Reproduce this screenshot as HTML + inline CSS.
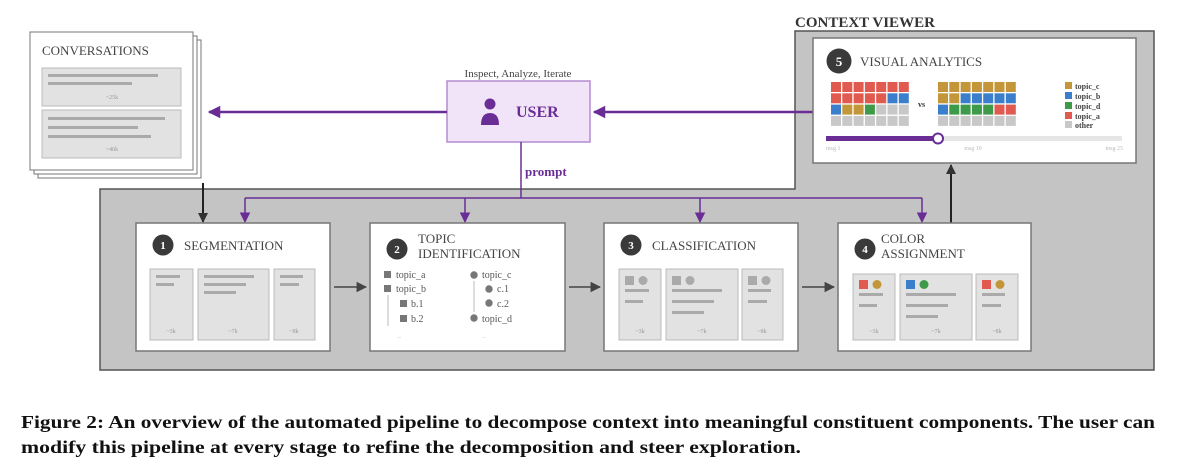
<!DOCTYPE html>
<html><head><style>
html,body{margin:0;padding:0;background:#fff;}
svg{display:block;font-family:"Liberation Serif",serif;}
</style></head><body>
<svg width="1199" height="472" viewBox="0 0 1199 472" xmlns="http://www.w3.org/2000/svg">
<defs>
<marker id="ap" viewBox="0 0 10 10" refX="9" refY="5" markerWidth="5" markerHeight="5" orient="auto"><path d="M0,0L10,5L0,10z" fill="#6a2d96"/></marker>
<marker id="ap2" viewBox="0 0 10 10" refX="9" refY="5" markerWidth="7" markerHeight="7" orient="auto"><path d="M0,0L10,5L0,10z" fill="#6a2d96"/></marker>
<marker id="ak" viewBox="0 0 10 10" refX="9" refY="5" markerWidth="5" markerHeight="5" orient="auto"><path d="M0,0L10,5L0,10z" fill="#333"/></marker>
<marker id="ak2" viewBox="0 0 10 10" refX="9" refY="5" markerWidth="7" markerHeight="7" orient="auto"><path d="M0,0L10,5L0,10z" fill="#444"/></marker>
</defs>

<!-- gray region -->
<path d="M100,189 L795,189 L795,31 L1154,31 L1154,370 L100,370 Z" fill="#c4c4c4" stroke="#555" stroke-width="1.5"/>
<text x="795" y="27" font-size="15" font-weight="bold" fill="#333">CONTEXT VIEWER</text>

<!-- conversations -->
<rect x="38" y="40" width="163" height="138" fill="#fff" stroke="#777" stroke-width="1"/>
<rect x="34" y="36" width="163" height="138" fill="#fff" stroke="#777" stroke-width="1"/>
<rect x="30" y="32" width="163" height="138" fill="#fff" stroke="#777" stroke-width="1"/>
<text x="42" y="55" font-size="13" fill="#444">CONVERSATIONS</text>
<rect x="42" y="68" width="139" height="38" fill="#e2e2e2" stroke="#bbb"/>
<rect x="48" y="74" width="110" height="3" fill="#aaa"/><rect x="48" y="82" width="84" height="3" fill="#aaa"/>
<text x="112" y="99" font-size="6" fill="#999" text-anchor="middle">~25k</text>
<rect x="42" y="110" width="139" height="48" fill="#e2e2e2" stroke="#bbb"/>
<rect x="48" y="117" width="117" height="3" fill="#aaa"/><rect x="48" y="126" width="90" height="3" fill="#aaa"/><rect x="48" y="135" width="103" height="3" fill="#aaa"/>
<text x="112" y="151" font-size="6" fill="#999" text-anchor="middle">~40k</text>

<!-- user -->
<text x="518" y="77" font-size="11" fill="#444" text-anchor="middle">Inspect, Analyze, Iterate</text>
<rect x="447" y="81" width="143" height="61" fill="#f1e4f8" stroke="#b48cd0" stroke-width="1.5"/>
<circle cx="490" cy="104" r="5.5" fill="#6a2d96"/>
<path d="M481,125 Q481,113 490,113 Q499,113 499,125 Z" fill="#6a2d96"/>
<text x="516" y="117" font-size="16" font-weight="bold" fill="#6a2d96">USER</text>
<line x1="447" y1="112" x2="209" y2="112" stroke="#6a2d96" stroke-width="2.5" marker-end="url(#ap)"/>
<line x1="813" y1="112" x2="594" y2="112" stroke="#6a2d96" stroke-width="2.5" marker-end="url(#ap)"/>

<!-- prompt -->
<line x1="521" y1="142" x2="521" y2="198" stroke="#6a2d96" stroke-width="1.5"/>
<text x="525" y="176" font-size="13" font-weight="bold" fill="#6a2d96">prompt</text>
<line x1="245" y1="198" x2="922" y2="198" stroke="#6a2d96" stroke-width="1.5"/>
<line x1="245" y1="198" x2="245" y2="222" stroke="#6a2d96" stroke-width="1.5" marker-end="url(#ap2)"/>
<line x1="465" y1="198" x2="465" y2="222" stroke="#6a2d96" stroke-width="1.5" marker-end="url(#ap2)"/>
<line x1="700" y1="198" x2="700" y2="222" stroke="#6a2d96" stroke-width="1.5" marker-end="url(#ap2)"/>
<line x1="922" y1="198" x2="922" y2="222" stroke="#6a2d96" stroke-width="1.5" marker-end="url(#ap2)"/>
<line x1="203" y1="183" x2="203" y2="222" stroke="#222" stroke-width="2" marker-end="url(#ak)"/>
<line x1="951" y1="223" x2="951" y2="165" stroke="#222" stroke-width="2" marker-end="url(#ak)"/>

<!-- visual analytics -->
<rect x="813" y="38" width="323" height="125" fill="#fff" stroke="#777" stroke-width="1.5"/>
<circle cx="839" cy="61" r="12.5" fill="#3a3a3a"/>
<text x="839" y="66" font-size="13" font-weight="bold" fill="#fff" text-anchor="middle">5</text>
<text x="860" y="66" font-size="13" fill="#444">VISUAL ANALYTICS</text>
<text x="918" y="107" font-size="8" font-weight="bold" fill="#333">vs</text>
<g font-size="8" font-weight="bold" fill="#444">
<rect x="1065" y="82" width="7" height="7" fill="#c4963a"/><text x="1075" y="89">topic_c</text>
<rect x="1065" y="92" width="7" height="7" fill="#3b7fcc"/><text x="1075" y="99">topic_b</text>
<rect x="1065" y="102" width="7" height="7" fill="#3d9a48"/><text x="1075" y="109">topic_d</text>
<rect x="1065" y="112" width="7" height="7" fill="#e05a50"/><text x="1075" y="119">topic_a</text>
<rect x="1065" y="121" width="7" height="7" fill="#c8c8c8"/><text x="1075" y="128">other</text>
</g>
<rect x="826" y="136" width="296" height="5" fill="#e6e6e6"/>
<rect x="826" y="136" width="112" height="5" fill="#6a2d96"/>
<circle cx="938" cy="138.5" r="5" fill="#fff" stroke="#6a2d96" stroke-width="2"/>
<text x="826" y="150" font-size="6" fill="#bbb">msg 1</text>
<text x="973" y="150" font-size="6" fill="#bbb" text-anchor="middle">msg 10</text>
<text x="1123" y="150" font-size="6" fill="#bbb" text-anchor="end">msg 25</text>

<!-- stage boxes -->
<g stroke="#777" stroke-width="1.5" fill="#fff">
<rect x="136" y="223" width="194" height="128"/>
<rect x="370" y="223" width="195" height="128"/>
<rect x="604" y="223" width="194" height="128"/>
<rect x="838" y="223" width="193" height="128"/>
</g>
<g fill="#3a3a3a"><circle cx="163" cy="245" r="10.5"/><circle cx="397" cy="249" r="10.5"/><circle cx="631" cy="245" r="10.5"/><circle cx="865" cy="249" r="10.5"/></g>
<g font-size="11" font-weight="bold" fill="#fff" text-anchor="middle"><text x="163" y="249">1</text><text x="397" y="253">2</text><text x="631" y="249">3</text><text x="865" y="253">4</text></g>
<g font-size="13" fill="#444">
<text x="184" y="250">SEGMENTATION</text>
<text x="418" y="243">TOPIC</text><text x="418" y="258">IDENTIFICATION</text>
<text x="652" y="250">CLASSIFICATION</text>
<text x="881" y="243">COLOR</text><text x="881" y="258">ASSIGNMENT</text>
</g>

<!-- stage arrows -->
<g stroke="#444" stroke-width="1.5">
<line x1="334" y1="287" x2="366" y2="287" marker-end="url(#ak2)"/>
<line x1="569" y1="287" x2="600" y2="287" marker-end="url(#ak2)"/>
<line x1="802" y1="287" x2="834" y2="287" marker-end="url(#ak2)"/>
</g>

<g fill="#e2e2e2" stroke="#bbb">
<rect x="150" y="269" width="43" height="71"/><rect x="198" y="269" width="71" height="71"/><rect x="274" y="269" width="41" height="71"/>
<rect x="619" y="269" width="42" height="71"/><rect x="666" y="269" width="72" height="71"/><rect x="742" y="269" width="41" height="71"/>
<rect x="853" y="274" width="42" height="66"/><rect x="900" y="274" width="72" height="66"/><rect x="976" y="274" width="42" height="66"/>
</g>
<g fill="#aaa">
<rect x="156" y="275" width="24" height="3"/><rect x="156" y="283" width="18" height="3"/>
<rect x="204" y="275" width="50" height="3"/><rect x="204" y="283" width="42" height="3"/><rect x="204" y="291" width="32" height="3"/>
<rect x="280" y="275" width="23" height="3"/><rect x="280" y="283" width="19" height="3"/>
</g>
<g font-size="6" fill="#999" text-anchor="middle">
<text x="171" y="333">~3k</text><text x="233" y="333">~7k</text><text x="294" y="333">~8k</text>
<text x="640" y="333">~3k</text><text x="702" y="333">~7k</text><text x="762" y="333">~8k</text>
<text x="874" y="333">~3k</text><text x="936" y="333">~7k</text><text x="997" y="333">~8k</text>
</g>

<!-- stage 2 -->
<g fill="#777"><rect x="384" y="271" width="7" height="7"/><rect x="384" y="285" width="7" height="7"/><rect x="400" y="300" width="7" height="7"/><rect x="400" y="315" width="7" height="7"/>
<circle cx="474" cy="275" r="3.7"/><circle cx="489" cy="289" r="3.7"/><circle cx="489" cy="303" r="3.7"/><circle cx="474" cy="318" r="3.7"/></g>
<line x1="388" y1="295" x2="388" y2="326" stroke="#bbb" stroke-width="1"/>
<line x1="474" y1="281" x2="474" y2="312" stroke="#bbb" stroke-width="1"/>
<g font-size="10" fill="#555">
<text x="396" y="278">topic_a</text><text x="396" y="292">topic_b</text><text x="411" y="307">b.1</text><text x="411" y="322">b.2</text>
<text x="482" y="278">topic_c</text><text x="497" y="292">c.1</text><text x="497" y="307">c.2</text><text x="482" y="322">topic_d</text>
</g>
<g font-size="6" fill="#bbb"><text x="397" y="338">...</text><text x="482" y="338">...</text></g>

<!-- stage 3 -->
<g fill="#aaa">
<rect x="625" y="276" width="9" height="9"/><circle cx="643" cy="280.5" r="4.5"/>
<rect x="625" y="289" width="24" height="3"/><rect x="625" y="300" width="18" height="3"/>
<rect x="672" y="276" width="9" height="9"/><circle cx="690" cy="280.5" r="4.5"/>
<rect x="672" y="289" width="50" height="3"/><rect x="672" y="300" width="42" height="3"/><rect x="672" y="311" width="32" height="3"/>
<rect x="748" y="276" width="9" height="9"/><circle cx="766" cy="280.5" r="4.5"/>
<rect x="748" y="289" width="23" height="3"/><rect x="748" y="300" width="19" height="3"/>
</g>
<!-- stage 4 -->
<rect x="859" y="280" width="9" height="9" fill="#e05a50"/><circle cx="877" cy="284.5" r="4.5" fill="#c4963a"/>
<rect x="906" y="280" width="9" height="9" fill="#3b7fcc"/><circle cx="924" cy="284.5" r="4.5" fill="#3d9a48"/>
<rect x="982" y="280" width="9" height="9" fill="#e05a50"/><circle cx="1000" cy="284.5" r="4.5" fill="#c4963a"/>
<g fill="#aaa">
<rect x="859" y="293" width="24" height="3"/><rect x="859" y="304" width="18" height="3"/>
<rect x="906" y="293" width="50" height="3"/><rect x="906" y="304" width="42" height="3"/><rect x="906" y="315" width="32" height="3"/>
<rect x="982" y="293" width="23" height="3"/><rect x="982" y="304" width="19" height="3"/>
</g>

<!-- grids -->
<g>
<g fill="#e05a50">
<rect x="831" y="82" width="10" height="10"/><rect x="842.3" y="82" width="10" height="10"/><rect x="853.6" y="82" width="10" height="10"/><rect x="864.9" y="82" width="10" height="10"/><rect x="876.2" y="82" width="10" height="10"/><rect x="887.5" y="82" width="10" height="10"/><rect x="898.8" y="82" width="10" height="10"/>
<rect x="831" y="93.3" width="10" height="10"/><rect x="842.3" y="93.3" width="10" height="10"/><rect x="853.6" y="93.3" width="10" height="10"/><rect x="864.9" y="93.3" width="10" height="10"/><rect x="876.2" y="93.3" width="10" height="10"/>
</g>
<rect x="887.5" y="93.3" width="10" height="10" fill="#3b7fcc"/><rect x="898.8" y="93.3" width="10" height="10" fill="#3b7fcc"/>
<rect x="831" y="104.6" width="10" height="10" fill="#3b7fcc"/><rect x="842.3" y="104.6" width="10" height="10" fill="#c4963a"/><rect x="853.6" y="104.6" width="10" height="10" fill="#c4963a"/><rect x="864.9" y="104.6" width="10" height="10" fill="#3d9a48"/>
<g fill="#c8c8c8">
<rect x="876.2" y="104.6" width="10" height="10"/><rect x="887.5" y="104.6" width="10" height="10"/><rect x="898.8" y="104.6" width="10" height="10"/>
<rect x="831" y="115.9" width="10" height="10"/><rect x="842.3" y="115.9" width="10" height="10"/><rect x="853.6" y="115.9" width="10" height="10"/><rect x="864.9" y="115.9" width="10" height="10"/><rect x="876.2" y="115.9" width="10" height="10"/><rect x="887.5" y="115.9" width="10" height="10"/><rect x="898.8" y="115.9" width="10" height="10"/>
</g>
<g fill="#c4963a">
<rect x="938" y="82" width="10" height="10"/><rect x="949.3" y="82" width="10" height="10"/><rect x="960.6" y="82" width="10" height="10"/><rect x="971.9" y="82" width="10" height="10"/><rect x="983.2" y="82" width="10" height="10"/><rect x="994.5" y="82" width="10" height="10"/><rect x="1005.8" y="82" width="10" height="10"/>
<rect x="938" y="93.3" width="10" height="10"/><rect x="949.3" y="93.3" width="10" height="10"/>
</g>
<g fill="#3b7fcc">
<rect x="960.6" y="93.3" width="10" height="10"/><rect x="971.9" y="93.3" width="10" height="10"/><rect x="983.2" y="93.3" width="10" height="10"/><rect x="994.5" y="93.3" width="10" height="10"/><rect x="1005.8" y="93.3" width="10" height="10"/>
<rect x="938" y="104.6" width="10" height="10"/>
</g>
<g fill="#3d9a48"><rect x="949.3" y="104.6" width="10" height="10"/><rect x="960.6" y="104.6" width="10" height="10"/><rect x="971.9" y="104.6" width="10" height="10"/><rect x="983.2" y="104.6" width="10" height="10"/></g>
<g fill="#e05a50"><rect x="994.5" y="104.6" width="10" height="10"/><rect x="1005.8" y="104.6" width="10" height="10"/></g>
<g fill="#c8c8c8">
<rect x="938" y="115.9" width="10" height="10"/><rect x="949.3" y="115.9" width="10" height="10"/><rect x="960.6" y="115.9" width="10" height="10"/><rect x="971.9" y="115.9" width="10" height="10"/><rect x="983.2" y="115.9" width="10" height="10"/><rect x="994.5" y="115.9" width="10" height="10"/><rect x="1005.8" y="115.9" width="10" height="10"/>
</g>
</g>

<!-- caption -->
<g font-size="18" font-weight="bold" fill="#111">
<text x="21" y="428" textLength="1134" lengthAdjust="spacingAndGlyphs">Figure 2: An overview of the automated pipeline to decompose context into meaningful constituent components. The user can</text>
<text x="21" y="453" textLength="780" lengthAdjust="spacingAndGlyphs">modify this pipeline at every stage to refine the decomposition and steer exploration.</text>
</g>
</svg>
</body></html>
